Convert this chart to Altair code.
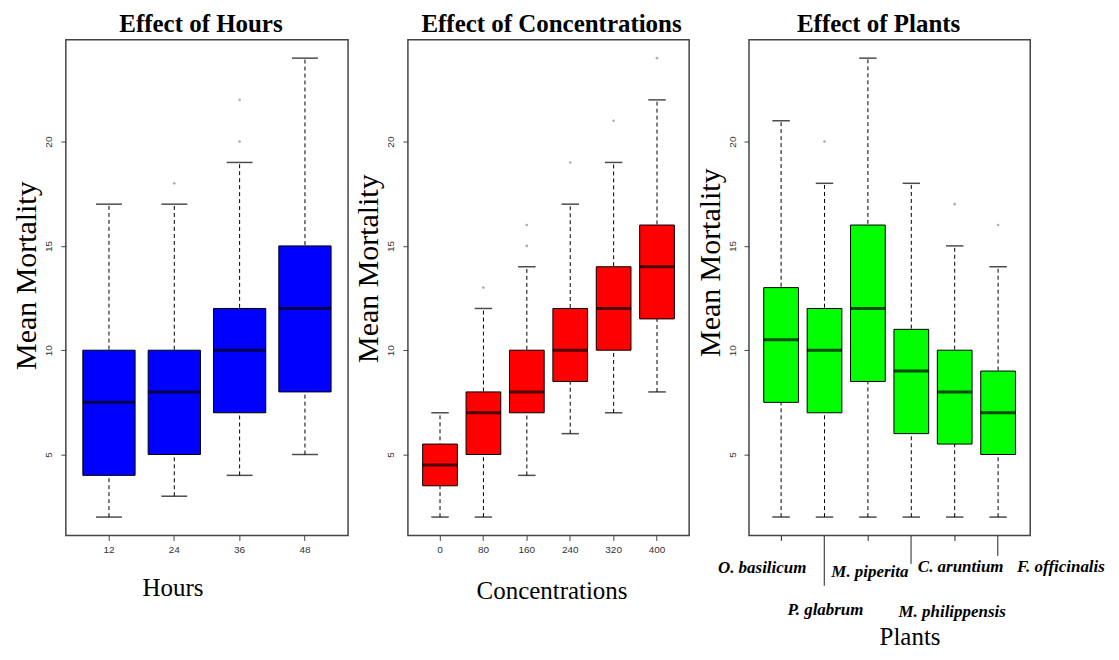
import altair as alt
import pandas as pd

# ---------------- data ----------------
hours = ["12", "24", "36", "48"]
h_low = [2, 3, 4, 5]
h_q1 = [4, 5, 7, 8]
h_med = [7.5, 8, 10, 12]
h_q3 = [10, 10, 12, 15]
h_high = [17, 17, 19, 24]
h_out = [[], [18], [20, 22], []]

concs = ["0", "80", "160", "240", "320", "400"]
c_low = [2, 2, 4, 6, 7, 8]
c_q1 = [3.5, 5, 7, 8.5, 10, 11.5]
c_med = [4.5, 7, 8, 10, 12, 14]
c_q3 = [5.5, 8, 10, 12, 14, 16]
c_high = [7, 12, 14, 17, 19, 22]
c_out = [[], [13], [15, 16], [19], [21], [24]]

plants = ["O. basilicum", "P. glabrum", "M. piperita", "M. philippensis", "C. aruntium", "F. officinalis"]
p_low = [2, 2, 2, 2, 2, 2]
p_q1 = [7.5, 7, 8.5, 6, 5.5, 5]
p_med = [10.5, 10, 12, 9, 8, 7]
p_q3 = [13, 12, 16, 11, 10, 9]
p_high = [21, 18, 24, 18, 15, 14]
p_out = [[], [20], [], [], [17], [16]]

y_ticks = [5, 10, 15, 20]
y_domain = [1.12, 24.88]


def cond(field_map, default):
    return {
        "condition": [{"test": f"datum.value === '{k}'", "value": v} for k, v in field_map.items()],
        "value": default,
    }


def panel(cats, low, q1, med, q3, high, outs, color, width, box_w, title, title_dx,
          y_title_y, x_axis):
    df = pd.DataFrame({"cat": cats, "low": low, "q1": q1, "med": med, "q3": q3, "high": high})
    out_rows = [{"cat": c, "v": v} for c, vs in zip(cats, outs) for v in vs]
    odf = pd.DataFrame(out_rows, columns=["cat", "v"])
    n = len(cats)
    xscale = alt.Scale(domain=cats, paddingInner=0.2, paddingOuter=0.1 + 0.04 * n)
    yscale = alt.Scale(domain=y_domain, nice=False, zero=False)
    yaxis = alt.Axis(values=y_ticks, labelAngle=270, labelAlign="center", labelBaseline="middle",
                     labelPadding=12, tickSize=5, tickColor="#444", labelColor="#333",
                     labelFont="Liberation Sans", labelFontSize=10, domain=False, grid=False,
                     title="Mean Mortality", titleFont="Liberation Serif", titleFontSize=30,
                     titleFontWeight="normal", titleColor="black", titleAngle=270,
                     titleX=-30, titleY=y_title_y, titleBaseline="alphabetic", titleAlign="center")
    x = alt.X("cat:N", scale=xscale, axis=x_axis, sort=cats)
    base = alt.Chart(df)
    whisk = base.mark_rule(color="black", strokeWidth=1, strokeDash=[4, 3]).encode(
        x=x, y=alt.Y("low:Q", scale=yscale, axis=yaxis), y2="high:Q")
    cap_lo = base.mark_tick(color="black", size=box_w / 2, thickness=1.5).encode(x=x, y="low:Q")
    cap_hi = base.mark_tick(color="black", size=box_w / 2, thickness=1.5).encode(x=x, y="high:Q")
    box = base.mark_bar(color=color, stroke="black", strokeWidth=1).encode(x=x, y="q1:Q", y2="q3:Q")
    median = base.mark_tick(color="black", size=box_w, thickness=3).encode(x=x, y="med:Q")
    pts = alt.Chart(odf).mark_point(shape="circle", filled=True, size=7, color="#999", opacity=0.8).encode(
        x=x, y="v:Q")
    return alt.layer(whisk, cap_lo, cap_hi, box, median, pts).properties(
        width=width, height=497,
        view=alt.ViewBackground(stroke="#444", strokeWidth=1.5, fill="white"),
        title=alt.TitleParams(title, font="Liberation Serif", fontSize=25, fontWeight="bold",
                              color="black", offset=3, frame="group",
                              anchor="middle", dx=title_dx))


def simple_xaxis(title, tx, ty):
    return alt.Axis(labelAngle=0, labelFont="Liberation Sans", labelFontSize=10, labelColor="#333",
                    labelPadding=4, tickSize=5, tickColor="#444", domain=False, grid=False,
                    title=title, titleFont="Liberation Serif", titleFontSize=25,
                    titleFontWeight="normal", titleColor="black", titleX=tx, titleY=ty,
                    titleBaseline="alphabetic", titleAlign="center")


# label offset from the axis = tickSize + labelPadding (per label)
plant_pad = {"O. basilicum": 19, "P. glabrum": 16, "M. piperita": 23, "M. philippensis": 40,
             "C. aruntium": 18, "F. officinalis": 3}
plant_off = {"O. basilicum": -19, "P. glabrum": 1, "M. piperita": 2, "M. philippensis": 41,
             "C. aruntium": 6, "F. officinalis": 63}
plant_tick = {"P. glabrum": 50, "M. philippensis": 28, "F. officinalis": 20}

plant_axis = alt.Axis(labelAngle=0, labelFont="Liberation Serif", labelFontSize=17,
                      labelFontStyle="italic", labelFontWeight="bold", labelColor="black",
                      labelBaseline="top", labelAlign="center",
                      labelPadding=cond(plant_pad, 18), labelOffset=cond(plant_off, 0),
                      tickSize=cond(plant_tick, 5), tickColor="#222", domain=False, grid=False,
                      title="Plants", titleFont="Liberation Serif", titleFontSize=25,
                      titleFontWeight="normal", titleColor="black", titleX=161, titleY=109,
                      titleBaseline="alphabetic", titleAlign="center", labelOverlap=False)

p1 = panel(hours, h_low, h_q1, h_med, h_q3, h_high, h_out, "#0000ff", 283, 52,
           "Effect of Hours", -6, 236, simple_xaxis("Hours", 107, 60))
p2 = panel(concs, c_low, c_q1, c_med, c_q3, c_high, c_out, "#ff0000", 282, 35,
           "Effect of Concentrations", 3, 229, simple_xaxis("Concentrations", 144, 63))
p3 = panel(plants, p_low, p_q1, p_med, p_q3, p_high, p_out, "#00ff00", 282, 35,
           "Effect of Plants", -11, 223, plant_axis)

chart = alt.hconcat(p1, p2, p3, spacing=4).properties(
    padding={"left": 3, "top": 2, "right": 5, "bottom": 0}
).configure_view(stroke="#444", strokeWidth=1.5).configure(background="white")

chart.save("out.html", embed_options={"renderer": "svg", "actions": False})
